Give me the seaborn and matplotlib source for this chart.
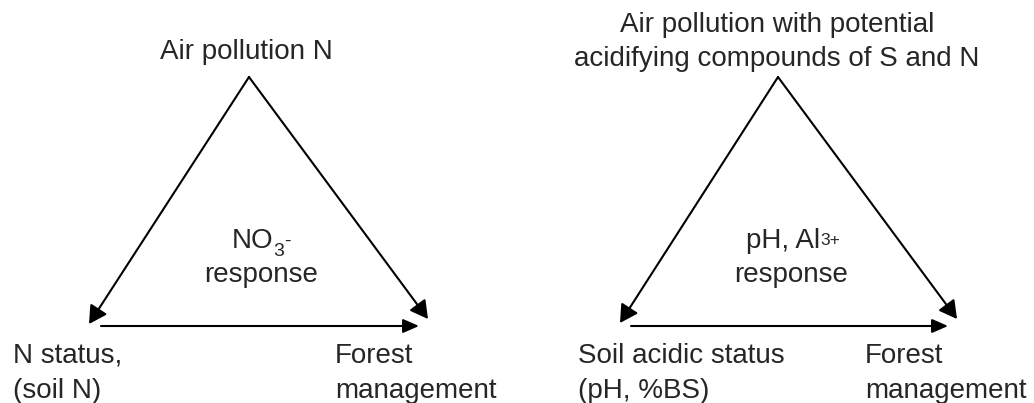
import matplotlib
matplotlib.use("Agg")
import matplotlib.pyplot as plt
import seaborn as sns

# ===== DONNEES DU SCHEMA (pixels, origine en haut a gauche) =====
# sommets des deux triangles
apex = [(249, 77), (778, 77)]
tip_left = [(89, 324), (620, 323)]
tip_right = [(428, 319), (957, 319)]
base_start = [(101, 326), (631, 326)]
base_end = [(419, 326), (948, 326)]

# textes du haut (une entree par ligne)
top_lines = [["Air pollution N"],
             ["Air pollution with potential", "acidifying compounds of S and N"]]
top_x = [246, 777]
top_base = [[59], [32, 66]]

# textes du centre : formule (partie principale + indices), puis "response"
formula_main = ["NO", "pH, Al"]
formula_end_x = [273, 820]
formula_base = 248
# indices : (texte, decalage x, ligne de base, taille)
formula_scripts = [[("3", 0, 256, 14), ("-", 11, 246, 14)],
                   [("3+", 0, 245, 12.5)]]
response_x = [261, 791]
response_base = 282

# textes du bas
left_lines = [["N status,", "(soil N)"], ["Soil acidic status", "(pH, %BS)"]]
left_x = [13, 578]
right_lines = [["Forest", "management"], ["Forest", "management"]]
right_x = [335, 865]
bottom_base = [363, 398]

# ===== STYLE =====
sns.set_theme(style="white")
plt.rcParams["font.family"] = ["Liberation Sans", "DejaVu Sans"]

FS = 20
fig = plt.figure(figsize=(10.34, 4.03), dpi=100)
ax = fig.add_axes([0, 0, 1, 1])
ax.set_xlim(0, 1034)
ax.set_ylim(403, 0)
ax.axis("off")


def draw_arrow(start, end, head_length, head_width):
    style = f"-|>,head_length={head_length},head_width={head_width}"
    ax.annotate("", xy=end, xytext=start,
                arrowprops=dict(arrowstyle=style, mutation_scale=15,
                                lw=1.5, color="black",
                                shrinkA=0, shrinkB=0))


for i in range(2):
    # fleches
    draw_arrow(apex[i], tip_left[i], 0.72, 0.4)
    draw_arrow(apex[i], tip_right[i], 0.72, 0.4)
    draw_arrow(base_start[i], base_end[i], 0.64, 0.28)

    # titre
    for line, y in zip(top_lines[i], top_base[i]):
        ax.text(top_x[i], y, line, ha="center", va="baseline", fontsize=FS)

    # formule au centre
    ax.text(formula_end_x[i], formula_base, formula_main[i],
            ha="right", va="baseline", fontsize=FS)
    for txt, dx, y, size in formula_scripts[i]:
        ax.text(formula_end_x[i] + dx, y, txt,
                ha="left", va="baseline", fontsize=size)
    ax.text(response_x[i], response_base, "response",
            ha="center", va="baseline", fontsize=FS)

    # bas
    for line, y in zip(left_lines[i], bottom_base):
        ax.text(left_x[i], y, line, ha="left", va="baseline", fontsize=FS)
    for line, y in zip(right_lines[i], bottom_base):
        ax.text(right_x[i], y, line, ha="left", va="baseline", fontsize=FS)

fig.savefig("out.png", dpi=100)
